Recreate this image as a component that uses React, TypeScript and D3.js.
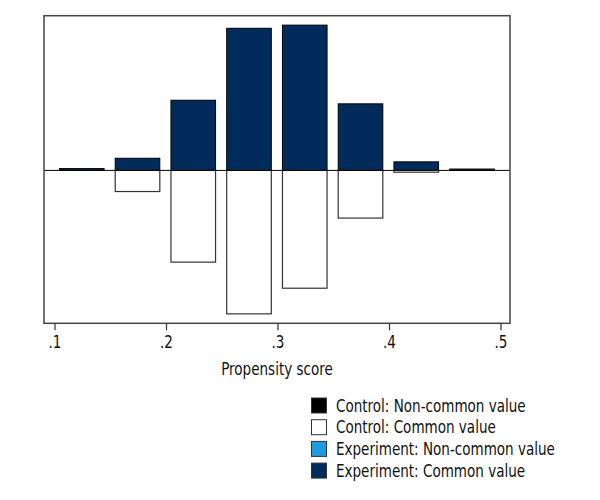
import React from "react";
import * as d3 from "d3";

const binStarts = [0.1, 0.15, 0.2, 0.25, 0.3, 0.35, 0.4, 0.45];
const experimentCommon = [0.004, 0.027, 0.156, 0.316, 0.323, 0.148, 0.019, 0.003];
const controlCommon = [0, 0.047, 0.204, 0.319, 0.262, 0.106, 0.004, 0];
const xTicks = [0.1, 0.2, 0.3, 0.4, 0.5];
const tickLabels = [".1", ".2", ".3", ".4", ".5"];
const legendLabels = [
  "Control: Non-common value",
  "Control: Common value",
  "Experiment: Non-common value",
  "Experiment: Common value",
];
const legendColors = ["#000000", "#ffffff", "#1e9be0", "#002b5a"];

const FONT = "'DejaVu Sans Condensed', sans-serif";
const SX = 0.835;

function T({ x, y, anchor, children }: { x: number; y: number; anchor?: string; children: React.ReactNode }) {
  return (
    <text transform={`translate(${x},${y}) scale(${SX},1)`} textAnchor={anchor || "start"}
      fontFamily={FONT} fontSize={18} fill="#111">{children}</text>
  );
}

export default function App() {
  const left = 44, right = 510, top = 15.7, bottom = 323.3;
  const x = d3.scaleLinear().domain([0.1, 0.5]).range([55, 501]);
  const y = d3.scaleLinear().domain([-0.34, 0.344]).range([bottom, top]);
  const barW = 0.04;
  const off = 0.004;
  return (
    <svg width={600} height={500} style={{ position: "absolute", left: 0, top: 0 }}>
      <rect x={0} y={0} width={600} height={500} fill="#fff" />
      {binStarts.map((b, i) => {
        const x0 = x(b + off);
        const w = x(b + off + barW) - x0;
        return (
          <g key={i}>
            {experimentCommon[i] > 0 && (
              <rect x={x0} y={y(experimentCommon[i])} width={w}
                height={y(0) - y(experimentCommon[i])} fill="#002b5a" stroke="#000" strokeWidth={1} />
            )}
            {controlCommon[i] > 0 && (
              <rect x={x0} y={y(0)} width={w}
                height={y(-controlCommon[i]) - y(0)} fill="#fff" stroke="#333" strokeWidth={1.2} />
            )}
          </g>
        );
      })}
      <line x1={left} x2={right} y1={y(0)} y2={y(0)} stroke="#000" strokeWidth={1} />
      <rect x={left} y={top} width={right - left} height={bottom - top} fill="none" stroke="#444" strokeWidth={1.5} />
      {xTicks.map((t, i) => (
        <g key={i}>
          <line x1={x(t)} x2={x(t)} y1={bottom} y2={bottom + 7} stroke="#333" strokeWidth={1.2} />
          <T x={x(t)} y={348} anchor="middle">{tickLabels[i]}</T>
        </g>
      ))}
      <T x={(left + right) / 2} y={375} anchor="middle">Propensity score</T>
      {legendLabels.map((l, i) => (
        <g key={i}>
          <rect x={311.5} y={398 + i * 21.7} width={15} height={15} fill={legendColors[i]} stroke="#333" strokeWidth={1} />
          <T x={336} y={411.5 + i * 21.7}>{l}</T>
        </g>
      ))}
    </svg>
  );
}
